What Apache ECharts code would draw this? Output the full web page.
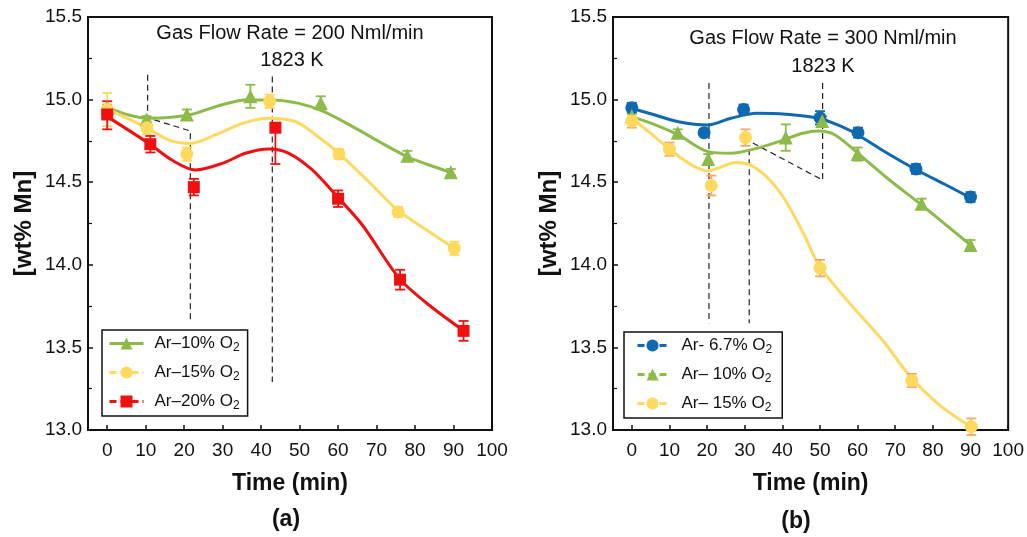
<!DOCTYPE html>
<html><head><meta charset="utf-8">
<script src="https://cdn.jsdelivr.net/npm/echarts@6/dist/echarts.min.js"></script>
<style>html,body{margin:0;padding:0;background:#fff}#c{width:1027px;height:537px}</style>
</head><body><div id="c"></div>
<script>
// ---- ticks ----
const xTicks = [0,10,20,30,40,50,60,70,80,90,100];
const yTicks = [13.0,13.5,14.0,14.5,15.0,15.5];

// ---- panel (a): 200 Nml/min ----
const aT10 = [0, 10.2, 20.7, 37.2, 55.5, 78.0, 89.3];
const aMn10 = [14.95, 14.88, 14.91, 15.02, 14.98, 14.66, 14.56];
const aErr10 = [0.02, 0.02, 0.03, 0.07, 0.04, 0.03, 0.02];
const aT15 = [0, 10.3, 20.7, 42.2, 60.2, 75.6, 90.2];
const aMn15 = [14.94, 14.83, 14.67, 14.99, 14.67, 14.32, 14.10];
const aErr15 = [0.10, 0.04, 0.04, 0.04, 0.03, 0.03, 0.04];
const aT20 = [0, 11.2, 22.5, 43.7, 60.0, 76.1, 92.6];
const aMn20 = [14.91, 14.73, 14.47, 14.83, 14.40, 13.91, 13.60];
const aErr20Up = [0.08, 0.05, 0.05, 0.00, 0.05, 0.06, 0.06];
const aErr20Dn = [0.09, 0.05, 0.05, 0.22, 0.05, 0.06, 0.06];
// fitted curves
const aFit10 = [[0,14.951],[5.6,14.907],[10.8,14.887],[16,14.891],[22,14.911],[29,14.963],[35.9,14.998],[42.9,14.998],[49.8,14.977],[55.9,14.931],[64.6,14.826],[70.7,14.745],[78,14.654],[83.7,14.604],[89.8,14.554]];
const aFit15 = [[0,14.943],[10.3,14.83],[16,14.755],[21.6,14.735],[28.1,14.786],[35.1,14.856],[42,14.887],[49,14.866],[54.2,14.786],[60.2,14.675],[68,14.503],[75.4,14.332],[83.7,14.20],[90.2,14.10]];
const aFit20 = [[0,14.897],[10.8,14.735],[16.8,14.634],[22.9,14.574],[29.9,14.614],[35.9,14.675],[42,14.701],[47.2,14.675],[53.3,14.574],[60.2,14.402],[66.3,14.241],[75.9,13.918],[83.7,13.755],[92.4,13.605]];
const aGuide1 = [[10.5,15.15],[10.5,14.89],[21.6,14.81],[21.6,13.66]];
const aGuide2 = [[42.9,15.14],[42.9,13.29]];
const aStages = [[7.9,14.41,'stage 1'],[32,14.17,'stage 2'],[71.8,13.53,'stage 3']];

// ---- panel (b): 300 Nml/min ----
const bT67 = [0, 19.2, 29.7, 50.0, 60.1, 75.5, 90.0];
const bMn67 = [14.95, 14.80, 14.94, 14.89, 14.80, 14.58, 14.41];
const bErr67 = [0.03, 0.02, 0.03, 0.04, 0.03, 0.03, 0.03];
const bT10 = [0, 12.2, 20.3, 40.9, 50.6, 60.0, 77.0, 90.0];
const bMn10 = [14.90, 14.80, 14.64, 14.77, 14.87, 14.67, 14.37, 14.12];
const bErr10 = [0.03, 0.02, 0.03, 0.08, 0.03, 0.04, 0.03, 0.03];
const bT15 = [0, 10.0, 21.1, 30.2, 50.0, 74.4, 90.2];
const bMn15 = [14.87, 14.70, 14.48, 14.77, 13.98, 13.30, 13.02];
const bErr15 = [0.04, 0.04, 0.06, 0.05, 0.05, 0.04, 0.05];
const bFit67 = [[0,14.947],[5.5,14.911],[12.4,14.866],[20.2,14.846],[26.3,14.887],[33.2,14.917],[41,14.911],[49.7,14.887],[55.8,14.836],[60.1,14.786],[67.9,14.675],[75.7,14.574],[83.5,14.483],[90,14.406]];
const bFit10 = [[0,14.897],[6.4,14.846],[12.4,14.786],[20.2,14.685],[26.3,14.675],[33.2,14.705],[40.2,14.755],[45.4,14.796],[49.7,14.81],[54,14.786],[60.1,14.675],[67.9,14.524],[77,14.362],[83.5,14.241],[90,14.12]];
const bFit15 = [[0,14.887],[5.5,14.786],[10.3,14.695],[15.9,14.604],[20.2,14.568],[22.8,14.584],[27.6,14.62],[31.5,14.604],[35.8,14.533],[40.2,14.412],[45.4,14.20],[49.7,13.999],[57.5,13.777],[66.2,13.555],[74.4,13.313],[81.8,13.151],[90,13.02]];
const bGuide1 = [[20.5,15.10],[20.5,13.646]];
const bGuide2 = [[31.2,14.70],[31.2,13.646]];
const bGuide3 = [[29.8,14.766],[50.7,14.513],[50.7,15.10]];
const bStages = [[7.1,14.255,'stage 1',0],[25.7,14.03,'stage 2',90],[53.3,13.535,'stage 3',0]];

const GREEN='#8DBB4A', YELLOW='#FFD85E', RED='#F01010', BLUE='#0E69B0', ORANGE='#F7A85E';
const FONT='Liberation Sans, Arial, sans-serif';

function errSeries(idx, t, mn, up, dn, color){
  return {type:'custom', xAxisIndex:idx, yAxisIndex:idx, z:4, silent:true,
    data: t.map((x,i)=>[x, mn[i], dn[i], up[i]]),
    renderItem:(p, api)=>{
      const x=api.value(0), y=api.value(1), lo=api.value(2), hi=api.value(3);
      const a=api.coord([x,y+hi]), b=api.coord([x,y-lo]);
      const w=5, st={stroke:color, lineWidth:1.8};
      return {type:'group', children:[
        {type:'line', shape:{x1:a[0],y1:a[1],x2:b[0],y2:b[1]}, style:st},
        {type:'line', shape:{x1:a[0]-w,y1:a[1],x2:a[0]+w,y2:a[1]}, style:st},
        {type:'line', shape:{x1:b[0]-w,y1:b[1],x2:b[0]+w,y2:b[1]}, style:st}
      ]};
    }};
}
function pts(idx, name, t, mn, color, symbol, size){
  return {type:'line', name, xAxisIndex:idx, yAxisIndex:idx, z:5,
    data:t.map((x,i)=>[x,mn[i]]), symbol, symbolSize:size, showSymbol:true,
    itemStyle:{color}, lineStyle:{opacity:0, color}, emphasis:{disabled:true}};
}
function fit(idx, data, color){
  return {type:'line', xAxisIndex:idx, yAxisIndex:idx, z:3, data, smooth:0.3, symbol:'none',
    lineStyle:{color, width:3}, silent:true};
}
function guide(idx, data){
  return {type:'line', xAxisIndex:idx, yAxisIndex:idx, z:2, data, symbol:'none',
    lineStyle:{color:'#222', width:1.2, type:[6,4]}, silent:true};
}
function stages(idx, data){
  return {type:'scatter', xAxisIndex:idx, yAxisIndex:idx, symbolSize:1, itemStyle:{opacity:0}, silent:true,
    data:data.map(d=>({value:[d[0],d[1]], label:{show:true, position:'inside', formatter:d[2], rotate:d[3]||0,
      color:'#111', fontSize:17, fontFamily:FONT}}))};
}
function xAx(idx){
  return {type:'value', gridIndex:idx, min:-5, max:100,
    name:'Time (min)', nameLocation:'middle', nameGap:42,
    nameTextStyle:{fontSize:23, fontWeight:'bold', color:'#111', fontFamily:FONT},
    axisLine:{show:true, onZero:false, lineStyle:{color:'#111', width:2}},
    axisTick:{show:true, inside:true, length:5, customValues:xTicks, lineStyle:{color:'#111', width:1.5}},
    axisLabel:{customValues:xTicks, fontSize:19, color:'#111', margin:11, fontFamily:FONT},
    splitLine:{show:false}};
}
function yAx(idx){
  return {type:'value', gridIndex:idx, min:13, max:15.5, interval:0.5,
    name:'[wt% Mn]', nameLocation:'middle', nameGap:52, nameRotate:90,
    nameTextStyle:{fontSize:24, fontWeight:'bold', color:'#111', fontFamily:FONT},
    axisLine:{show:true, onZero:false, lineStyle:{color:'#111', width:2}},
    axisTick:{show:true, inside:true, length:5, lineStyle:{color:'#111', width:1.5}},
    minorTick:{show:true, splitNumber:2, length:4, lineStyle:{color:'#111', width:1.2}},
    axisLabel:{fontSize:19, color:'#111', margin:6, fontFamily:FONT, formatter:v=>v.toFixed(1)},
    splitLine:{show:false}};
}
const legendText = {fontSize:17, color:'#111', fontFamily:FONT, padding:[0,0,0,6],
  rich:{s:{fontSize:12, fontFamily:FONT, color:'#111', padding:[9,0,0,0]}}};
const legendText2 = Object.assign({}, legendText, {padding:[0,0,0,9]});
const fmtLegend = n => n.slice(0,-1) + '{s|2}';
function legItem(name, color, dashed){
  return {name, lineStyle:{opacity:1, width:3, color, type: dashed?[7,4]:'solid'}};
}

const chart = echarts.init(document.getElementById('c'), null, {renderer:'canvas'});
chart.setOption({
  animation:false,
  grid:[
    {left:88, top:17, width:404, height:413, show:true, borderColor:'#111', borderWidth:2},
    {left:613, top:17, width:401, height:413, show:true, borderColor:'#111', borderWidth:2}
  ],
  xAxis:[xAx(0), xAx(1)],
  yAxis:[yAx(0), yAx(1)],
  legend:[
    {left:102, top:330, orient:'vertical', itemWidth:34, itemHeight:15, itemGap:10,
     padding:[5,8,4,6], borderColor:'#111', borderWidth:1.5,
     textStyle:legendText, formatter:fmtLegend, selectedMode:false,
     data:[legItem('Ar–10% O2',GREEN,false), legItem('Ar–15% O2',YELLOW,true), legItem('Ar–20% O2',RED,true)]},
    {left:624, top:332, orient:'vertical', itemWidth:30, itemHeight:15, itemGap:10,
     padding:[5,10,4,12], borderColor:'#111', borderWidth:1.5,
     textStyle:legendText2, formatter:fmtLegend, selectedMode:false,
     data:[legItem('Ar- 6.7% O2',BLUE,true), legItem('Ar– 10% O2',GREEN,true), legItem('Ar– 15% O2',YELLOW,true)]}
  ],
  graphic:[
    {type:'text', style:{text:'Gas Flow Rate = 200 Nml/min', x:290, y:33, align:'center', verticalAlign:'middle', fontSize:20, fontFamily:FONT, fill:'#111'}},
    {type:'text', style:{text:'1823 K', x:292, y:60, align:'center', verticalAlign:'middle', fontSize:20, fontFamily:FONT, fill:'#111'}},
    {type:'text', style:{text:'Gas Flow Rate = 300 Nml/min', x:823, y:38, align:'center', verticalAlign:'middle', fontSize:20, fontFamily:FONT, fill:'#111'}},
    {type:'text', style:{text:'1823 K', x:823, y:66, align:'center', verticalAlign:'middle', fontSize:20, fontFamily:FONT, fill:'#111'}},
    {type:'text', style:{text:'(a)', x:286, y:520, align:'center', verticalAlign:'middle', fontSize:23, fontWeight:'bold', fontFamily:FONT, fill:'#111'}},
    {type:'text', style:{text:'(b)', x:796, y:522, align:'center', verticalAlign:'middle', fontSize:23, fontWeight:'bold', fontFamily:FONT, fill:'#111'}}
  ],
  series:[
    guide(0,aGuide1), guide(0,aGuide2),
    fit(0,aFit10,GREEN), fit(0,aFit15,YELLOW), fit(0,aFit20,RED),
    errSeries(0,aT10,aMn10,aErr10,aErr10,GREEN),
    errSeries(0,aT15,aMn15,aErr15,aErr15,YELLOW),
    errSeries(0,aT20,aMn20,aErr20Up,aErr20Dn,RED),
    pts(0,'Ar–10% O2',aT10,aMn10,GREEN,'triangle',14),
    pts(0,'Ar–15% O2',aT15,aMn15,YELLOW,'circle',13),
    pts(0,'Ar–20% O2',aT20,aMn20,RED,'rect',12),
    stages(0,aStages),
    guide(1,bGuide1), guide(1,bGuide2), guide(1,bGuide3),
    fit(1,bFit67,BLUE), fit(1,bFit10,GREEN), fit(1,bFit15,YELLOW),
    errSeries(1,bT67,bMn67,bErr67,bErr67,BLUE),
    errSeries(1,bT10,bMn10,bErr10,bErr10,GREEN),
    errSeries(1,bT15,bMn15,bErr15,bErr15,ORANGE),
    pts(1,'Ar- 6.7% O2',bT67,bMn67,BLUE,'circle',13),
    pts(1,'Ar– 10% O2',bT10,bMn10,GREEN,'triangle',14),
    pts(1,'Ar– 15% O2',bT15,bMn15,YELLOW,'circle',13),
    stages(1,bStages)
  ]
});
</script></body></html>
